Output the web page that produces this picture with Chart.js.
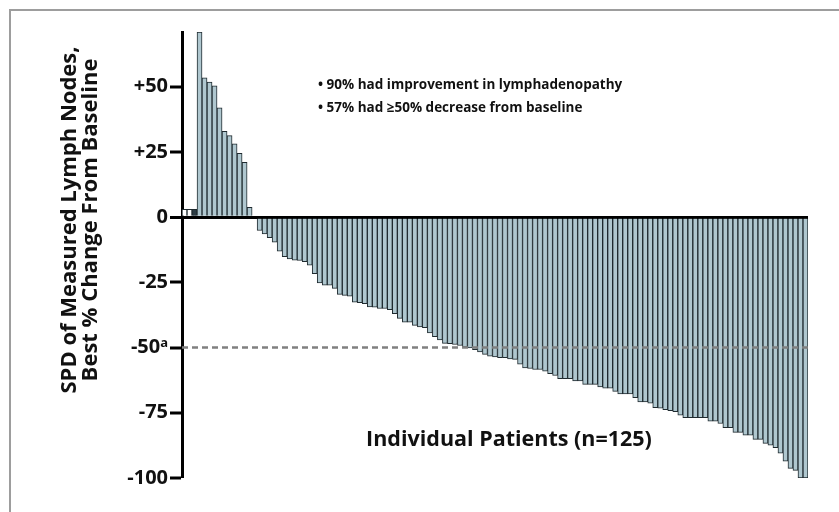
<!DOCTYPE html>
<html><head><meta charset="utf-8">
<script src="https://cdn.jsdelivr.net/npm/chart.js@4/dist/chart.umd.min.js"></script>
<style>
html,body{margin:0;padding:0;background:#fff;}
#wrap{position:relative;width:839px;height:512px;overflow:hidden;}
#frame{position:absolute;left:9px;top:9px;width:900px;height:600px;border-left:2px solid #9d9d9d;border-top:2px solid #9d9d9d;}
canvas{position:absolute;left:0;top:0;}
</style></head><body>
<div id="wrap"><div id="frame"></div><canvas id="c" width="839" height="512"></canvas></div>
<script>
const patients = Array.from({length:125},(_,i)=>String(i+1));
const bestChange = [
  3, 3, 3, 71, 53.4, 51.8, 50.4, 41.9, 32.9, 31.3, 28.1, 24.5, 21.0, 3.8, 0,
  -5.1, -6.4, -7.9, -9.6, -13.0, -15.1, -16.0, -16.5, -16.6, -17.1,
  -18.4, -21.7, -25.2, -26.1, -26.1, -27.3, -29.6, -30.0, -30.3, -32.6,
  -32.8, -33.2, -34.4, -34.5, -35.0, -35.0, -35.5, -37.0, -38.8, -40.3,
  -40.3, -41.5, -42.1, -42.4, -44.4, -45.8, -47.1, -48.4, -48.5, -48.8,
  -49.2, -49.8, -50.1, -50.8, -51.7, -52.6, -53.3, -53.6, -53.9, -53.9,
  -54.3, -54.5, -56.4, -57.8, -58.0, -58.4, -58.4, -59.0, -60.0, -60.7,
  -61.9, -61.9, -61.9, -62.8, -62.8, -64.1, -64.1, -64.1, -65.1, -65.6,
  -65.6, -66.8, -67.8, -67.8, -67.8, -69.2, -70.8, -70.8, -71.3, -73.0,
  -73.2, -73.8, -74.2, -74.6, -75.9, -76.9, -76.9, -76.9, -76.9, -76.9,
  -78.2, -78.2, -79.1, -80.7, -80.7, -82.5, -82.5, -83.6, -83.6, -85.2,
  -85.2, -86.7, -87.4, -88.4, -90.5, -93.5, -96.3, -97.1, -100, -100
];
const yTickValues = [-100, -75, -50, -25, 0, 25, 50];
const yTickLabels = ['-100', '-75', '-50\u1D43', '-25', '0', '+25', '+50'];
const yAxisTitle = ['SPD of Measured Lymph Nodes,', 'Best % Change From Baseline'];
const xAxisTitle = 'Individual Patients (n=125)';
const notes = ['\u2022 90% had improvement in lymphadenopathy', '\u2022 57% had \u226550% decrease from baseline'];
const threshold = -50;

const FONT = "'Open Sans', 'Noto Sans', sans-serif";

const annot = {
  id: 'annot',
  afterDatasetsDraw(chart) {
    const {ctx, chartArea, scales} = chart;
    const y = scales.y.getPixelForValue(threshold);
    ctx.save();
    ctx.strokeStyle = '#808080';
    ctx.lineWidth = 2.5;
    ctx.setLineDash([6, 4]);
    ctx.beginPath();
    ctx.moveTo(chartArea.left, y);
    ctx.lineTo(chartArea.right, y);
    ctx.stroke();
    ctx.setLineDash([]);
    ctx.fillStyle = '#111';
    ctx.font = "bold 13.5px " + FONT;
    ctx.textAlign = 'left';
    ctx.textBaseline = 'middle';
    ctx.fillText(notes[0], 318, 85);
    ctx.fillText(notes[1], 318, 108);
    ctx.font = "bold 21.5px " + FONT;
    ctx.textAlign = 'center';
    ctx.fillText(xAxisTitle, 509, 440);
    ctx.translate(80, 220);
    ctx.rotate(-Math.PI / 2);
    ctx.font = "bold 22px " + FONT;
    ctx.fillText(yAxisTitle[0], 0, -10.5);
    ctx.fillText(yAxisTitle[1], 0, 10.5);
    ctx.restore();
  }
};

new Chart(document.getElementById('c'), {
  type: 'bar',
  data: {
    labels: patients,
    datasets: [{
      data: bestChange,
      backgroundColor: c => c.dataIndex < 2 ? '#ffffff' : (c.dataIndex === 2 ? '#2c3c44' : '#afc7cf'),
      borderColor: '#1f2a2f',
      borderWidth: 1,
      barPercentage: 1,
      categoryPercentage: 1
    }]
  },
  options: {
    responsive: false,
    animation: false,
    devicePixelRatio: 1,
    layout: {padding: {top: 32, right: 31, bottom: 34, left: 0}},
    plugins: {legend: {display: false}, tooltip: {enabled: false}},
    scales: {
      x: {display: false, offset: true},
      y: {
        min: -100, max: 71,
        afterBuildTicks: s => { s.ticks = yTickValues.map(v => ({value: v})); },
        afterFit: s => { s.width = 182; },
        ticks: {
          callback: v => yTickLabels[yTickValues.indexOf(v)],
          font: {family: FONT, weight: 'bold', size: 20},
          color: '#111',
          padding: 2
        },
        grid: {
          drawOnChartArea: true,
          color: c => (c.tick && c.tick.value === 0) ? '#000' : 'rgba(0,0,0,0)',
          lineWidth: c => (c.tick && c.tick.value === 0) ? 3 : 0,
          tickColor: '#000',
          tickLength: 12,
          tickWidth: 3
        },
        border: {display: true, color: '#000', width: 3}
      }
    }
  },
  plugins: [annot]
});
</script>
</body></html>
